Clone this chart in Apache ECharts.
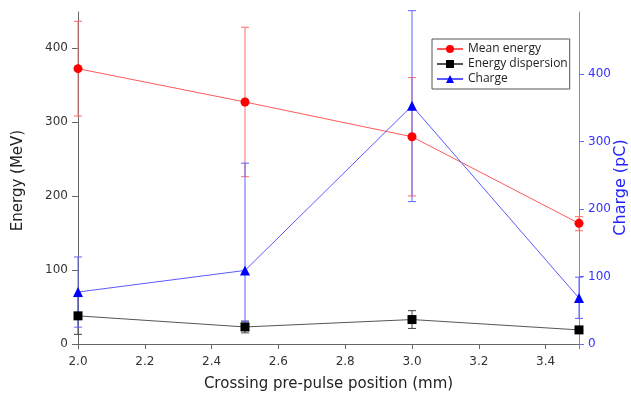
<!DOCTYPE html>
<html>
<head>
<meta charset="utf-8">
<script src="https://cdn.jsdelivr.net/npm/echarts@6/dist/echarts.min.js"></script>
<style>
html,body{margin:0;padding:0;background:#fff;}
#chart{width:631px;height:401px;}
</style>
</head>
<body>
<div id="chart"></div>
<script>
// Data
const positions = [2.0, 2.5, 3.0, 3.5];
const meanEnergy = [372, 327, 280, 163];
const meanEnergyLow = [308, 226, 200, 153];
const meanEnergyHigh = [436, 428, 360, 172];
const energyDispersion = [38, 23, 33, 19];
const energyDispersionLow = [13, 15, 21, 19];
const energyDispersionHigh = [64, 31, 45, 19];
const charge = [77, 109, 353, 68];
const chargeLow = [25, 33, 211, 38];
const chargeHigh = [129, 268, 494, 99];
const xTicks = [2.0, 2.2, 2.4, 2.6, 2.8, 3.0, 3.2, 3.4];
const leftTicks = [0, 100, 200, 300, 400];
const rightTicks = [0, 100, 200, 300, 400];

const FONT = 'DejaVu Sans';
const LEGEND_FONT = 'Open Sans';

function errSeries(name, vals, lows, highs, color, yIdx) {
  return {
    type: 'custom',
    name: name + ' err',
    yAxisIndex: yIdx,
    z: 1,
    silent: true,
    data: positions.map((x, i) => [x, lows[i], highs[i]]),
    renderItem: function (params, api) {
      const x = api.value(0);
      const lo = api.coord([x, api.value(1)]);
      const hi = api.coord([x, api.value(2)]);
      const hw = 4;
      const style = { stroke: color, lineWidth: 1 };
      return {
        type: 'group',
        children: [
          { type: 'line', shape: { x1: lo[0], y1: lo[1], x2: hi[0], y2: hi[1] }, style },
          { type: 'line', shape: { x1: lo[0] - hw, y1: lo[1], x2: lo[0] + hw, y2: lo[1] }, style },
          { type: 'line', shape: { x1: hi[0] - hw, y1: hi[1], x2: hi[0] + hw, y2: hi[1] }, style }
        ]
      };
    }
  };
}

const chart = echarts.init(document.getElementById('chart'), null, { renderer: 'canvas' });
chart.setOption({
  backgroundColor: '#ffffff',
  animation: false,
  textStyle: { fontFamily: FONT },
  grid: { left: 78, right: 52, top: 12, bottom: 52, containLabel: false, outerBoundsMode: 'none' },
  legend: {
    orient: 'vertical',
    left: 432,
    top: 39,
    backgroundColor: '#ffffff',
    borderColor: '#555555',
    borderWidth: 1,
    padding: [4, 2, 4, 4],
    itemGap: 3,
    itemWidth: 26,
    itemHeight: 10,
    textStyle: { fontFamily: LEGEND_FONT, fontSize: 12, color: '#222' },
    data: ['Mean energy', 'Energy dispersion', 'Charge']
  },
  xAxis: {
    type: 'value',
    min: 2.0,
    max: 3.5,
    name: 'Crossing pre-pulse position (mm)',
    nameLocation: 'middle',
    nameGap: 28,
    nameMoveOverlap: false,
    nameTextStyle: { fontFamily: FONT, fontSize: 15, color: '#222' },
    axisLine: { lineStyle: { color: '#666', width: 1 } },
    axisTick: { show: true, length: 5, inside: false, customValues: xTicks, lineStyle: { color: '#666' } },
    axisLabel: {
      customValues: xTicks,
      margin: 7,
      fontSize: 12,
      color: '#333',
      fontFamily: FONT,
      formatter: v => v.toFixed(1)
    },
    splitLine: { show: false }
  },
  yAxis: [
    {
      type: 'value',
      min: -6.8,
      max: 448.6,
      position: 'left',
      name: 'Energy (MeV)',
      nameLocation: 'middle',
      nameGap: 52,
      nameRotate: 90,
      nameTextStyle: { fontFamily: FONT, fontSize: 15, color: '#222' },
      axisLine: { show: true, lineStyle: { color: '#666', width: 1 } },
      axisTick: { show: true, length: 6, customValues: leftTicks, lineStyle: { color: '#666' } },
      axisLabel: { customValues: leftTicks, margin: 10, fontSize: 12, color: '#333', fontFamily: FONT },
      splitLine: { show: false }
    },
    {
      type: 'value',
      min: -7.4,
      max: 492,
      position: 'right',
      name: 'Charge (pC)',
      nameLocation: 'middle',
      nameGap: 34,
      nameRotate: 90,
      nameMoveOverlap: false,
      nameTextStyle: { fontFamily: FONT, fontSize: 16, color: '#2222ff', padding: [0, 14, 0, 0] },
      axisLine: { show: true, lineStyle: { color: '#8080ff', width: 1 } },
      axisTick: { show: true, length: 5, customValues: rightTicks, lineStyle: { color: '#6a6aff' } },
      axisLabel: { customValues: rightTicks, margin: 9, fontSize: 12, color: '#3333ff', fontFamily: FONT },
      splitLine: { show: false }
    }
  ],
  series: [
    errSeries('Mean energy', meanEnergy, meanEnergyLow, meanEnergyHigh, '#ff6a6a', 0),
    errSeries('Energy dispersion', energyDispersion, energyDispersionLow, energyDispersionHigh, '#444444', 0),
    errSeries('Charge', charge, chargeLow, chargeHigh, '#6060ff', 1),
    {
      type: 'line',
      name: 'Mean energy',
      yAxisIndex: 0,
      z: 3,
      data: positions.map((x, i) => [x, meanEnergy[i]]),
      symbol: 'circle',
      symbolSize: 9,
      itemStyle: { color: '#ff0000' },
      lineStyle: { color: '#ff5a5a', width: 1 }
    },
    {
      type: 'line',
      name: 'Energy dispersion',
      yAxisIndex: 0,
      z: 3,
      data: positions.map((x, i) => [x, energyDispersion[i]]),
      symbol: 'rect',
      symbolSize: 9,
      itemStyle: { color: '#000000' },
      lineStyle: { color: '#555555', width: 1 }
    },
    {
      type: 'line',
      name: 'Charge',
      yAxisIndex: 1,
      z: 3,
      data: positions.map((x, i) => [x, charge[i]]),
      symbol: 'triangle',
      symbolSize: 10,
      itemStyle: { color: '#0000ff' },
      lineStyle: { color: '#5a5aff', width: 1 }
    }
  ]
});
</script>
</body>
</html>
